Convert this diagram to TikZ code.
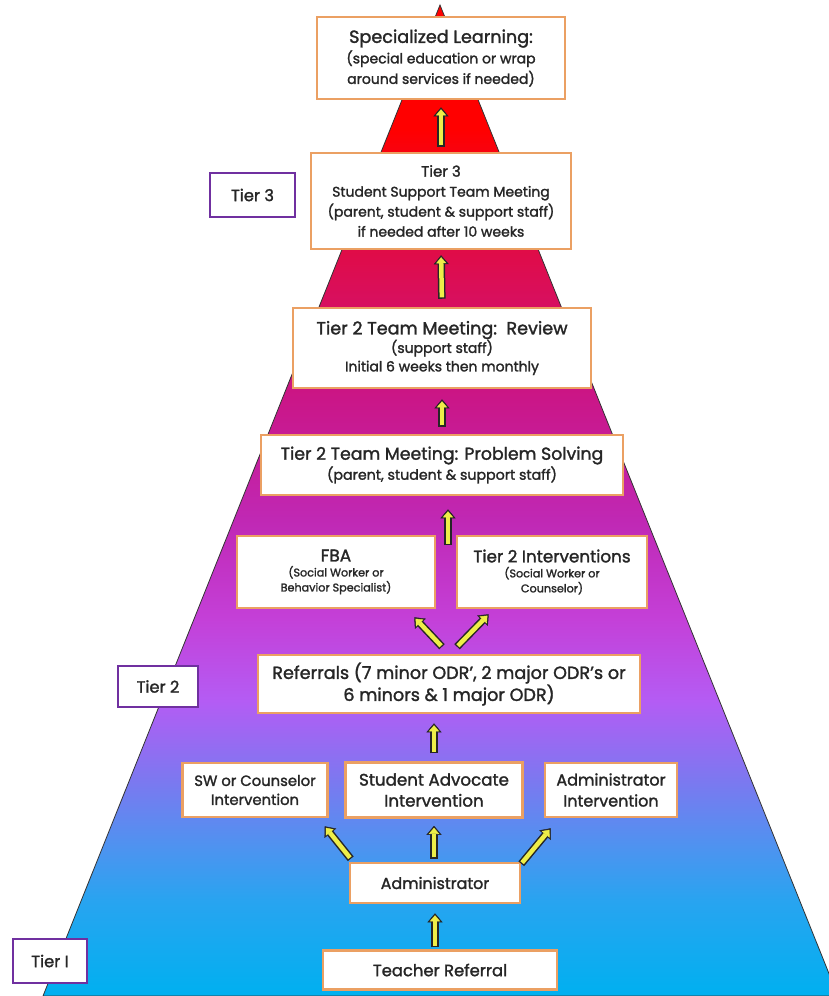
\documentclass[tikz,border=0pt]{standalone}
\usepackage{fontspec}
\setmainfont{Poppins}[FakeBold=1.6]
\usetikzlibrary{arrows.meta,calc}

\definecolor{boxline}{HTML}{EBA063}
\definecolor{tierline}{HTML}{7030A0}
\definecolor{arrfill}{HTML}{EEEE48}
% pyramid colours, bottom to top
\definecolor{pyrA}{HTML}{00B0F0}
\definecolor{pyrB}{HTML}{28A4F0}
\definecolor{pyrC}{HTML}{4C94F0}
\definecolor{pyrD}{HTML}{7C78F0}
\definecolor{pyrE}{HTML}{B45CF4}
\definecolor{pyrF}{HTML}{C440D8}
\definecolor{pyrG}{HTML}{C028B4}
\definecolor{pyrH}{HTML}{CA1688}
\definecolor{pyrI}{HTML}{D80F5E}
\definecolor{pyrJ}{HTML}{E80830}
\definecolor{pyrK}{HTML}{FF0000}
\pgfdeclareverticalshading{pyramid}{100bp}{color(0bp)=(pyrA); color(25bp)=(pyrA);
  color(29.8bp)=(pyrB); color(32.4bp)=(pyrC); color(35.9bp)=(pyrD); color(39.9bp)=(pyrE);
  color(44bp)=(pyrF); color(49bp)=(pyrG); color(55.1bp)=(pyrH); color(60.1bp)=(pyrI);
  color(65.2bp)=(pyrJ); color(68.7bp)=(pyrK); color(75bp)=(pyrK); color(100bp)=(pyrK)}
\newcommand\fsz[2]{\fontsize{#1}{#2}\selectfont}

\begin{document}
\begin{tikzpicture}[x=1pt,y=-1pt,
  box/.style={draw=boxline,line width=2.5pt,fill=white,align=center,inner sep=2pt,text=black!85},
  tierbox/.style={draw=tierline,line width=2.5pt,fill=white,align=center,inner sep=2pt,text=black!85,font=\fsz{16.3}{18}},
  arr/.style 2 args={draw=black!85,line width=7.5pt,-{Triangle[length=9pt,width=15pt,line width=0.4pt]},
    shorten <=#1,shorten >=#2,
    postaction={draw=arrfill,line width=4.5pt,-{Triangle[length=6pt,width=10pt,line width=0.4pt]},
      shorten <={#1+1.3pt},shorten >={#2+2pt}}}]
  \useasboundingbox (0,0) rectangle (829,996);
  % pyramid
  \coordinate (T) at (440,5); \coordinate (BL) at (43,996); \coordinate (BR) at (838,996);
  \draw[black!80,line width=0.8pt,shading=pyramid] (T) -- (BL) -- (BR) -- cycle;
  % tier labels
  \node[tierbox,minimum width=85,minimum height=44] (lab3) at (252.5,195) {Tier 3};
  \node[tierbox,minimum width=80,minimum height=41] (lab2) at (158,686.5) {Tier 2};
  \node[tierbox,minimum width=74,minimum height=44] (lab1) at (50,961) {Tier I};
  % top of the pyramid
  \node[box,minimum width=248,minimum height=82,font=\fsz{14}{20.5}] (spec) at (441,58)
    {{\fsz{17.6}{20}Specialized Learning:}\\(special education or wrap\\around services if needed)};
  \node[box,minimum width=260,minimum height=96,font=\fsz{14}{20}] (tier3) at (441,201)
    {{\fsz{15}{20}Tier 3}\\Student Support Team Meeting\\(parent, student \& support staff)\\if needed after 10 weeks};
  \node[box,minimum width=298,minimum height=80,font=\fsz{14}{18.5}] (review) at (442,348)
    {{\fsz{17.6}{20}Tier 2 Team Meeting:\ \ Review}\\(support staff)\\Initial 6 weeks then monthly};
  \node[box,minimum width=362,minimum height=60,font=\fsz{14.2}{20}] (solve) at (442,465)
    {{\fsz{17.3}{20}Tier 2 Team Meeting: Problem Solving}\\(parent, student \& support staff)};
  % tier 2 middle
  \node[box,minimum width=198,minimum height=72,font=\fsz{11.2}{15}] (fba) at (336,572)
    {{\fsz{17}{22}FBA}\\(Social Worker or\\Behavior Specialist)};
  \node[box,minimum width=190,minimum height=72,font=\fsz{11.2}{15}] (interv) at (552,572)
    {{\fsz{16.8}{22}Tier 2 Interventions}\\(Social Worker or\\Counselor)};
  \node[box,minimum width=382,minimum height=58,font=\fsz{17.6}{22}] (refs) at (449,684)
    {Referrals (7 minor ODR’, 2 major ODR’s or\\6 minors \& 1 major ODR)};
  % bottom row
  \node[box,minimum width=145,minimum height=54,font=\fsz{14.8}{19}] (sw) at (255,790) {SW or Counselor\\Intervention};
  \node[box,minimum width=177,minimum height=55,font=\fsz{16.7}{21}] (adv) at (434,790) {Student Advocate\\Intervention};
  \node[box,minimum width=132,minimum height=54,font=\fsz{16}{21}] (admint) at (611,790) {Administrator\\Intervention};
  \node[box,minimum width=170,minimum height=40,font=\fsz{15.9}{18}] (admin) at (435,883) {Administrator};
  \node[box,minimum width=234,minimum height=39,font=\fsz{16.4}{18}] (teach) at (440,970) {Teacher Referral};
  % arrows
  \coordinate (join) at (448,545);
  \draw[arr={5pt}{7pt}] (tier3.north) -- (spec.south);
  \draw[arr={8pt}{5pt}] (review.north) -- (tier3.south);
  \draw[arr={7pt}{10pt}] (solve.north) -- (review.south);
  \draw[arr={0pt}{13pt}] (join) -- (solve.south -| join);
  \draw[arr={0pt}{0pt}] ([shift={(-7,-7)}]refs.north) -- ([shift={(-22,8)}]fba.south east);
  \draw[arr={0pt}{0pt}] ([shift={(8,-7)}]refs.north) -- ([shift={(33,5)}]interv.south west);
  \draw[arr={8pt}{9pt}] (adv.north) -- (adv.north |- refs.south);
  \draw[arr={0pt}{0pt}] ([shift={(2,-3)}]admin.north west) -- ([shift={(-4,8)}]sw.south east);
  \draw[arr={3pt}{7pt}] (admin.north -| adv.south) -- (adv.south);
  \draw[arr={0pt}{0pt}] ([shift={(0,2)}]admin.north east) -- ([shift={(7,10)}]admint.south west);
  \draw[arr={2pt}{9pt}] (teach.north -| admin.south) -- (admin.south);
\end{tikzpicture}
\end{document}
